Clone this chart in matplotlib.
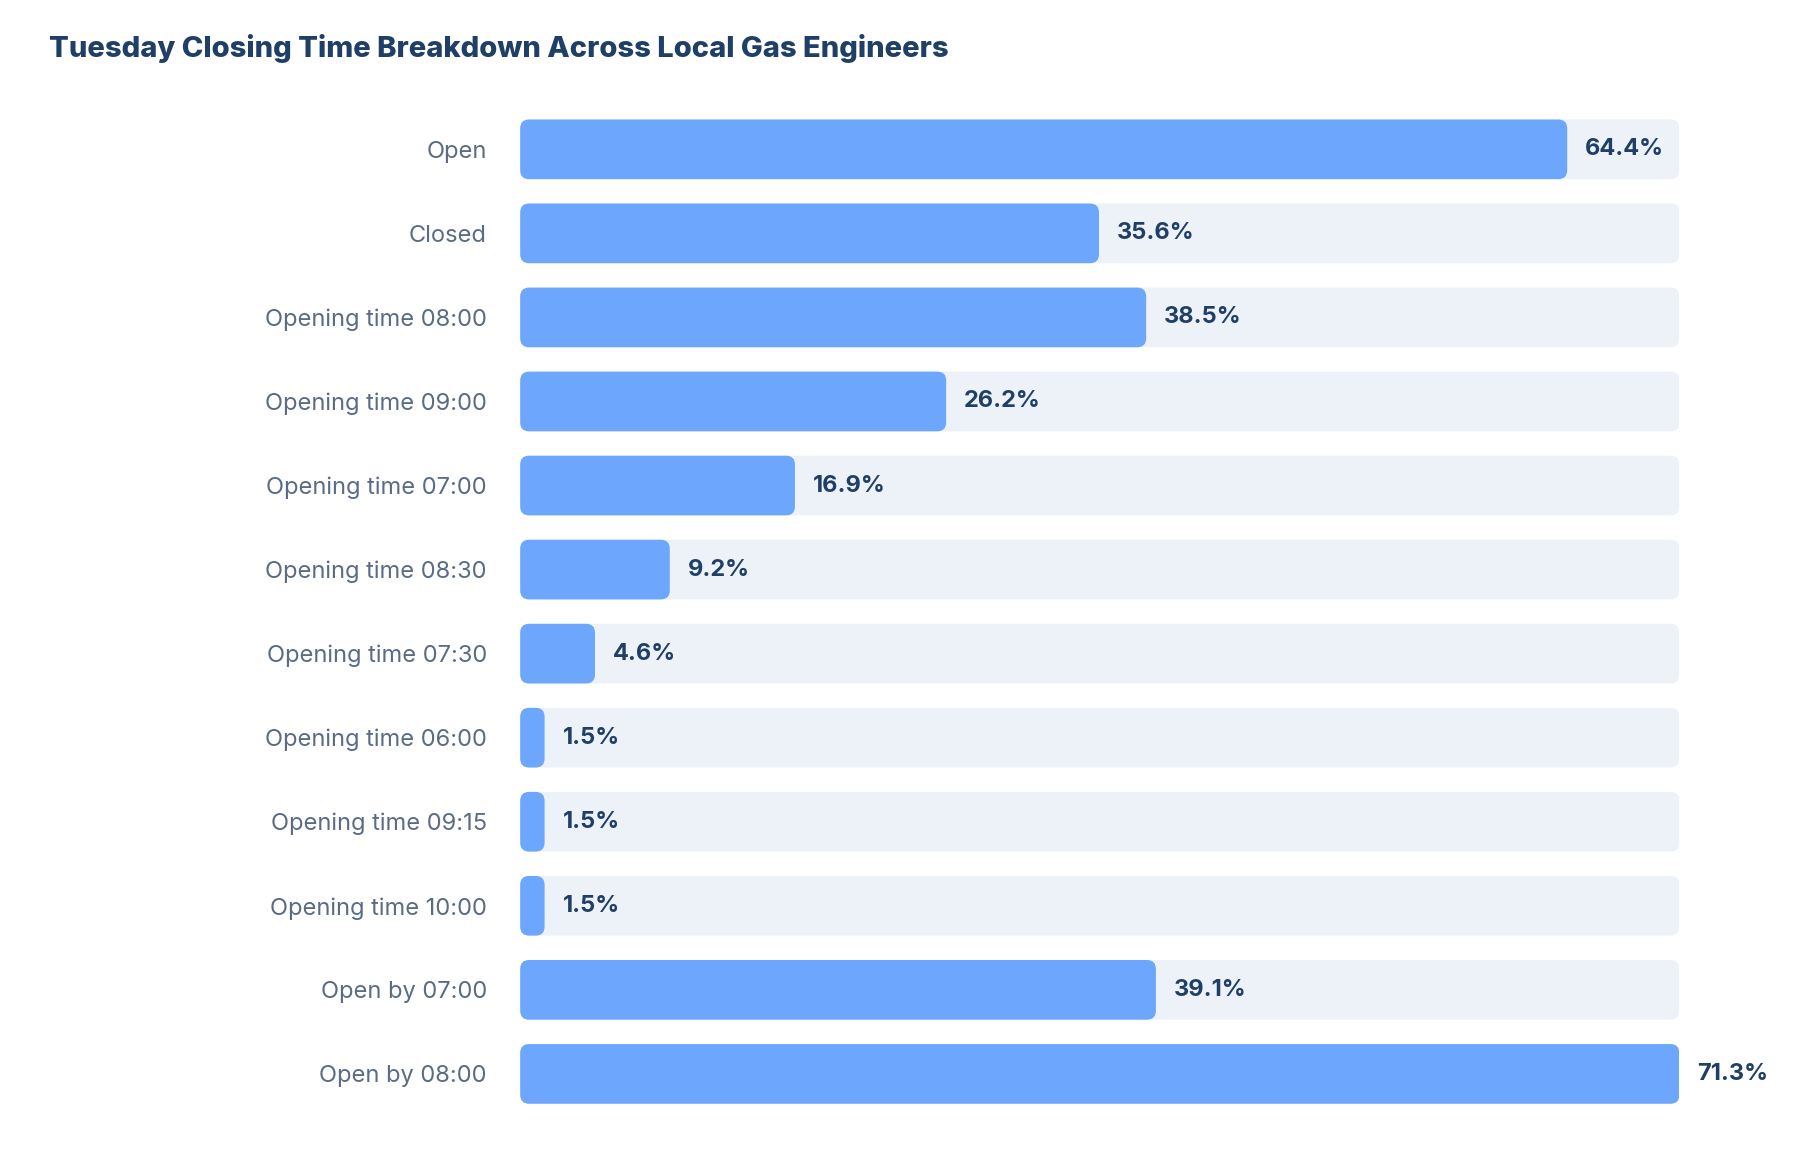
import matplotlib
matplotlib.use("Agg")
import matplotlib.pyplot as plt
from matplotlib.patches import FancyBboxPatch

categories = ["Open", "Closed", "Opening time 08:00", "Opening time 09:00", "Opening time 07:00",
              "Opening time 08:30", "Opening time 07:30", "Opening time 06:00", "Opening time 09:15",
              "Opening time 10:00", "Open by 07:00", "Open by 08:00"]
values = [64.4, 35.6, 38.5, 26.2, 16.9, 9.2, 4.6, 1.5, 1.5, 1.5, 39.1, 71.3]

plt.rcParams['font.family'] = ['Inter', 'DejaVu Sans']
fig = plt.figure(figsize=(18, 11.6), dpi=100)
ax = fig.add_axes([0.289, 0.038, 0.644, 0.8695])
xmax = max(values)
ax.set_xlim(0, xmax)
ax.set_ylim(len(values) - 0.5, -0.5)
h = 0.71
rs = 0.55
asp = 0.194
for i, (c, v) in enumerate(zip(categories, values)):
    ax.add_patch(FancyBboxPatch((0, i - h / 2), xmax, h, boxstyle=f"round,pad=0,rounding_size={rs}",
                                mutation_aspect=asp, fc="#EDF2F9", ec="none"))
    ax.add_patch(FancyBboxPatch((0, i - h / 2), v, h, boxstyle=f"round,pad=0,rounding_size={rs}",
                                mutation_aspect=asp, fc="#6CA6FD", ec="none"))
    ax.text(v + 1.1, i, f"{v}%", va="center", ha="left", fontsize=17, fontweight="bold",
            color="#1F3F66", clip_on=False)
ax.set_yticks(range(len(values)))
ax.set_yticklabels(categories, fontsize=17, color="#5A6B84")
ax.tick_params(axis="y", length=0, pad=24)
ax.set_xticks([])
for s in ax.spines.values():
    s.set_visible(False)
fig.text(0.027, 0.958, "Tuesday Closing Time Breakdown Across Local Gas Engineers", fontsize=21,
         fontweight="heavy", color="#1F3F66", va="center", ha="left")
fig.savefig("out.png", dpi=100, facecolor="white")
